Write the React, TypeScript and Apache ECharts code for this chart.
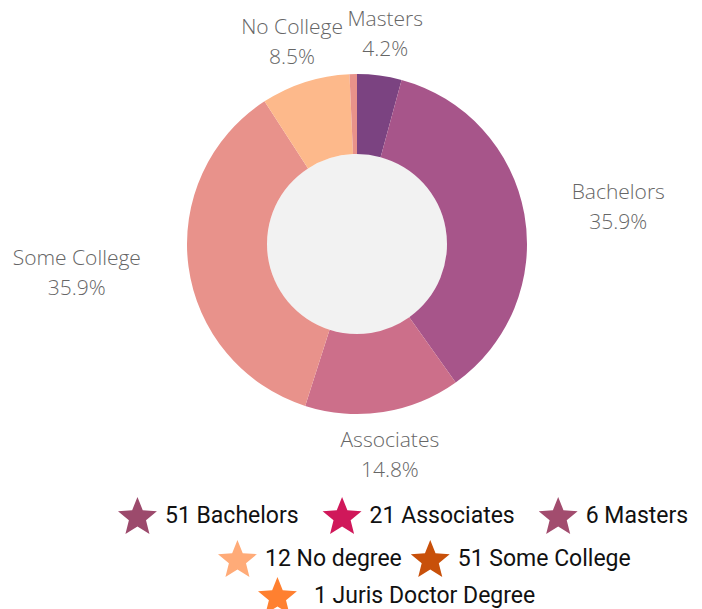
import React, { useEffect, useRef } from "react";
import * as echarts from "echarts";

// Pie data (clockwise from top)
const categories = ["Masters", "Bachelors", "Associates", "Some College", "No College", "Juris Doctor Degree"];
const counts = [6, 51, 21, 51, 12, 1];
const legendLabels = ["Masters", "Bachelors", "Associates", "Some College", "No degree", "Juris Doctor Degree"];
const sliceColors = ["#7b4381", "#a7558a", "#cc6f8a", "#e8928b", "#fdb98b", "#e8928a"];
const starColors = ["#a24c6e", "#9c4a6c", "#d0185a", "#c8500a", "#ffab78", "#ff8030"];
const legendRows = [
  ["Bachelors", "Associates", "Masters"],
  ["No College", "Some College"],
  ["Juris Doctor Degree"],
];

const STAR =
  "path://M0,-50 L12.93,-17.8 L47.55,-15.45 L20.92,6.8 L29.39,40.45 L0,22 L-29.39,40.45 L-20.92,6.8 L-47.55,-15.45 L-12.93,-17.8 Z";

export default function App() {
  const ref = useRef<HTMLDivElement>(null);
  useEffect(() => {
    if (!ref.current) return;
    const chart = echarts.init(ref.current, null, { renderer: "svg" });
    const total = counts.reduce((a, b) => a + b, 0);
    // mid angle of each slice (clockwise from top) for label alignment
    const midSin: number[] = [];
    let acc = 0;
    counts.forEach((c) => {
      const mid = ((acc + c / 2) / total) * Math.PI * 2;
      midSin.push(Math.sin(mid));
      acc += c;
    });
    const idx = (name: string) => categories.indexOf(name);
    const legendRowLeft = [118, 218, 258];
    const legendRowTop = [497, 540, 577];
    const legendRowGap = [24, 9, 10];
    const legendTextPad = [3, 3, 12];

    chart.setOption({
      animation: false,
      backgroundColor: "#ffffff",
      legend: legendRows.map((row, r) => ({
        orient: "horizontal",
        left: legendRowLeft[r],
        top: legendRowTop[r],
        padding: 0,
        itemWidth: 39,
        itemHeight: 37,
        itemGap: legendRowGap[r],
        selectedMode: false,
        icon: STAR,
        textStyle: {
          fontFamily: "Roboto",
          fontSize: 23,
          color: "#111111",
          padding: [0, 0, 0, legendTextPad[r]],
        },
        formatter: (name: string) => {
          const i = idx(name);
          return `${counts[i]} ${legendLabels[i]}`;
        },
        data: row.map((name) => ({ name, itemStyle: { color: starColors[idx(name)] } })),
      })),
      series: [
        {
          type: "pie",
          silent: true,
          center: [357, 244],
          radius: [0, 90],
          label: { show: false },
          labelLine: { show: false },
          itemStyle: { color: "#f2f2f2" },
          data: [{ name: "__hole", value: 1 }],
          z: 1,
        },
        {
          type: "pie",
          center: [357, 244],
          radius: [90, 170],
          startAngle: 90,
          clockwise: true,
          avoidLabelOverlap: false,
          minShowLabelAngle: 5,
          label: {
            show: true,
            position: "outside",
            distanceToLabelLine: 5,
            formatter: (p: any) =>
              `{a|${p.name}}\n{a|${((p.value / total) * 100).toFixed(1)}%}`,
            rich: {
              a: {
                fontFamily: "Open Sans",
                fontWeight: 300,
                fontSize: 21,
                lineHeight: 30,
                color: "#666666",
                align: "center",
              },
            },
          },
          labelLine: { show: false, length: 43, length2: 0 },
          labelLayout: (p: any) => {
            const s = midSin[p.dataIndex];
            if (Math.abs(s) < 0.6) {
              return { align: "center", dx: s > 0 ? -5 : 5 };
            }
            return {};
          },
          data: categories.map((name, i) => ({
            name,
            value: counts[i],
            itemStyle: { color: sliceColors[i] },
          })),
          z: 2,
        },
      ],
    });
    return () => chart.dispose();
  }, []);
  return (
    <div
      ref={ref}
      style={{ position: "fixed", left: 0, top: 0, width: 702, height: 609 }}
    />
  );
}
